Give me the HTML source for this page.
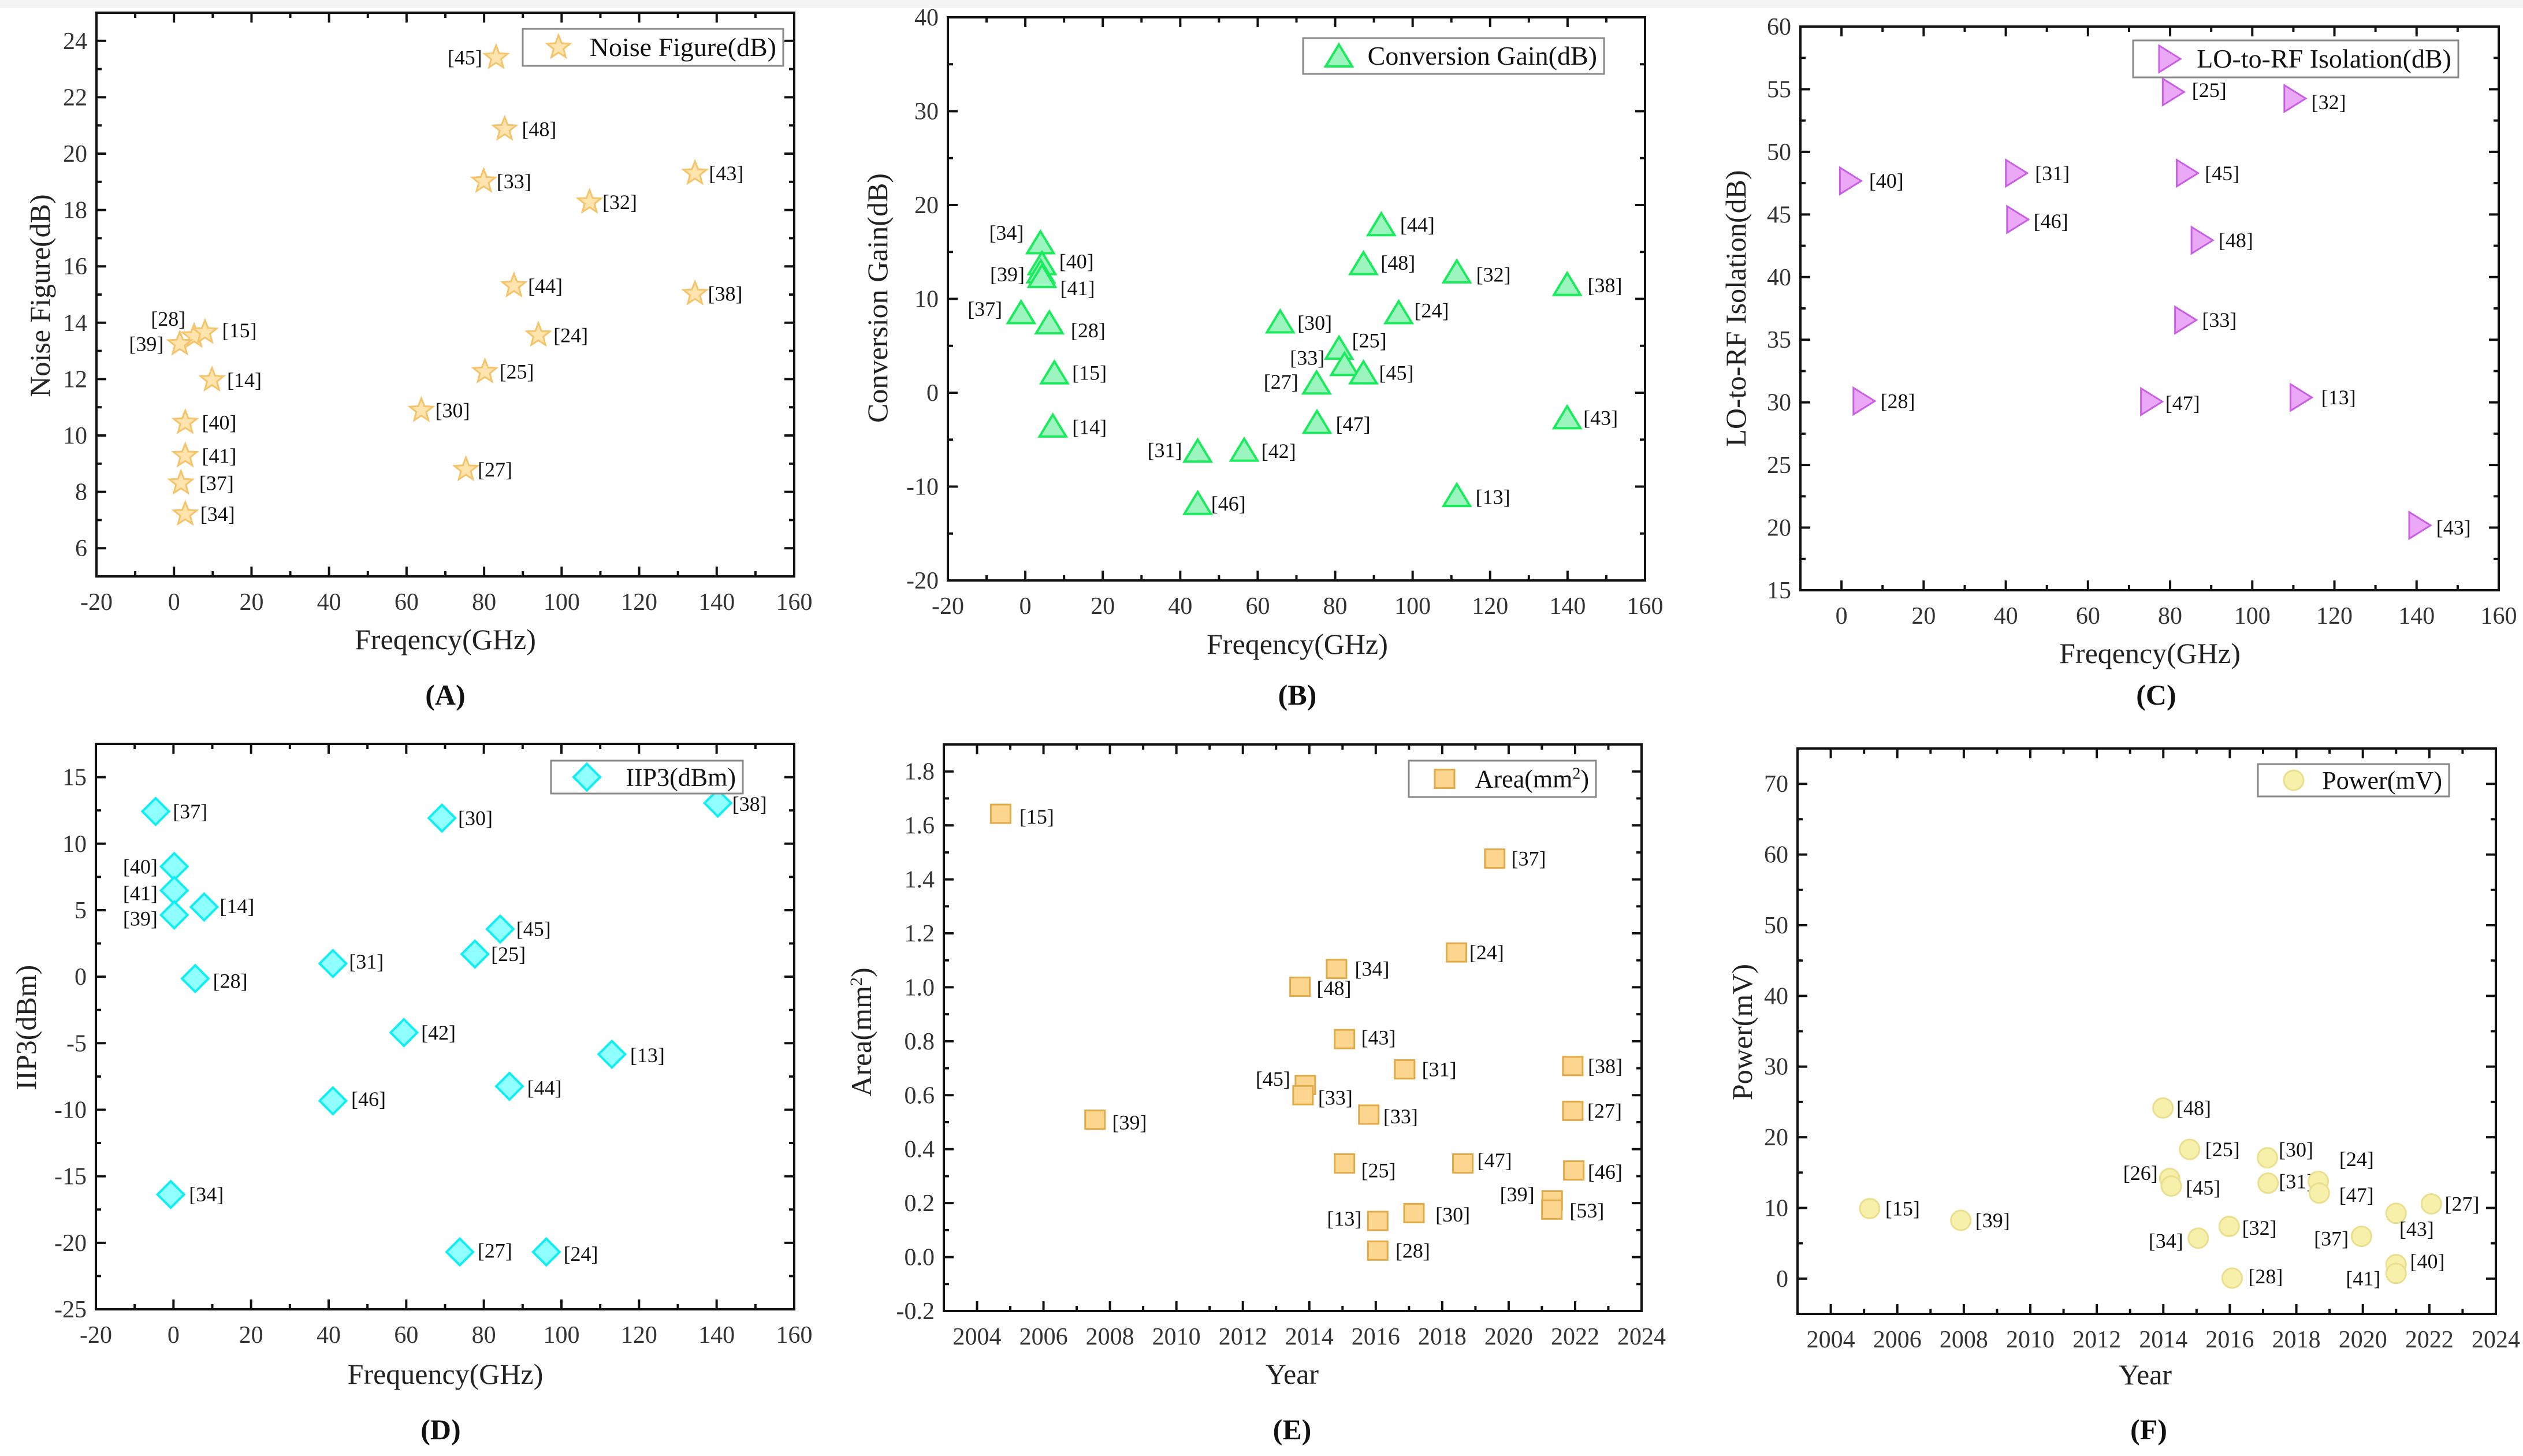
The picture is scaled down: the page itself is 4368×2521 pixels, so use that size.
<!DOCTYPE html>
<html><head><meta charset="utf-8"><style>
html,body{margin:0;padding:0;background:#fff;}
svg{display:block;font-family:"Liberation Serif","Noto Serif CJK SC",serif;}
</style></head><body>
<svg id="fig" width="4368" height="2521" viewBox="0 0 4368 2521">
<rect x="0" y="0" width="4368" height="14" fill="#f4f4f4"/>
</svg>
<script>
// ===== Panel A: Noise Figure =====
const aRefs=["[45]","[48]","[33]","[43]","[32]","[44]","[38]","[28]","[15]","[39]","[24]","[14]","[25]","[30]","[40]","[41]","[27]","[37]","[34]"];
const aFreq=[83.1,85.3,79.9,134.4,107.2,87.7,134.4,5.2,8.0,1.5,94.0,9.8,80.2,63.8,2.9,2.9,75.3,1.8,2.9];
const aNF=[23.41,20.87,19.02,19.30,18.28,15.31,15.03,13.52,13.66,13.25,13.56,11.97,12.26,10.89,10.46,9.28,8.79,8.31,7.21];
const aLbl=[["e",-26,0],["s",32,0],["s",24,0],["s",26,0],["s",24,0],["s",26,0],["s",24,0],["e",-16,-38],["s",32,-4],["e",-30,0],["s",28,0],["s",28,0],["s",27,0],["s",26,0],["s",31,0],["s",31,0],["s",22,0],["s",34,0],["s",28,0]];
const aXTicks=[-20,0,20,40,60,80,100,120,140,160];
const aYTicks=[6,8,10,12,14,16,18,20,22,24];

// ===== Panel B: Conversion Gain =====
const bRefs=["[34]","[40]","[39]","[41]","[37]","[28]","[15]","[14]","[31]","[42]","[46]","[44]","[48]","[32]","[38]","[24]","[30]","[25]","[33]","[45]","[27]","[47]","[43]","[13]"];
const bFreq=[3.9,4.3,4.0,4.3,-1.1,6.2,7.5,7.1,44.5,56.5,44.5,91.9,87.3,111.4,139.9,96.4,65.8,81.0,82.4,87.3,75.2,75.3,139.9,111.4];
const bGain=[15.97,13.75,12.87,12.37,8.52,7.44,2.11,-3.56,-6.23,-6.13,-11.8,17.9,13.75,12.87,11.53,8.52,7.54,4.73,3.0,2.11,1.03,-3.17,-2.67,-10.96];
const bLbl=[["e",-31,-22],["s",32,-5],["e",-30,5],["s",34,25],["e",-35,-8],["s",40,16],["s",33,0],["s",36,2],["e",-29,-2],["s",32,2],["s",25,0],["s",35,0],["s",32,-2],["s",36,6],["s",38,2],["s",29,-5],["s",32,2],["s",24,-17],["e",-37,-15],["s",29,0],["e",-34,-3],["s",35,3],["s",30,0],["s",35,3]];
const bXTicks=[-20,0,20,40,60,80,100,120,140,160];
const bYTicks=[-20,-10,0,10,20,30,40];

// ===== Panel C: LO-to-RF Isolation =====
const cRefs=["[40]","[28]","[31]","[46]","[25]","[32]","[45]","[48]","[33]","[47]","[13]","[43]"];
const cFreq=[2.0,5.3,42.4,42.7,80.6,110.2,84.0,87.6,83.6,75.3,111.7,140.6];
const cIso=[47.68,30.1,48.3,44.6,54.78,54.26,48.3,42.94,36.57,30.06,30.39,20.18];
const cLbl=[["s",36,0],["s",32,0],["s",36,0],["s",31,4],["s",36,-4],["s",32,8],["s",34,0],["s",32,0],["s",32,0],["s",27,3],["s",39,0],["s",32,5]];
const cXTicks=[0,20,40,60,80,100,120,140,160];
const cYTicks=[15,20,25,30,35,40,45,50,55,60];

// ===== Panel D: IIP3 =====
const dRefs=["[37]","[30]","[38]","[40]","[41]","[39]","[14]","[28]","[31]","[45]","[25]","[42]","[13]","[44]","[46]","[34]","[27]","[24]"];
const dFreq=[-4.6,69.2,140.3,0.2,0.2,0.2,7.9,5.6,41.1,84.2,77.7,59.4,113.0,86.6,41.1,-0.7,73.8,96.1];
const dIIP3=[12.42,11.92,13.05,8.28,6.48,4.64,5.24,-0.14,0.99,3.58,1.70,-4.2,-5.83,-8.24,-9.33,-16.37,-20.69,-20.69];
const dLbl=[["s",32,0],["s",30,0],["s",27,2],["e",-31,0],["e",-31,6],["e",-31,8],["s",29,-2],["s",33,5],["s",30,-4],["s",30,0],["s",30,0],["s",32,0],["s",34,2],["s",33,3],["s",34,-4],["s",34,0],["s",33,-3],["s",32,4]];
const dXTicks=[-20,0,20,40,60,80,100,120,140,160];
const dYTicks=[-25,-20,-15,-10,-5,0,5,10,15];

// ===== Panel E: Area =====
const eRefs=["[15]","[39]","[37]","[24]","[34]","[48]","[43]","[31]","[38]","[45]","[33]","[33]","[27]","[25]","[47]","[46]","[39]","[53]","[30]","[13]","[28]"];
const eYear=[2004.71,2007.55,2019.58,2018.43,2014.82,2013.72,2015.06,2016.87,2021.93,2013.88,2013.81,2015.79,2021.93,2015.06,2018.62,2021.96,2021.31,2021.30,2017.15,2016.06,2016.06];
const eArea=[1.643,0.509,1.477,1.129,1.068,1.002,0.808,0.696,0.708,0.638,0.600,0.528,0.542,0.347,0.347,0.321,0.210,0.176,0.163,0.134,0.024];
const eLbl=[["s",35,6],["s",32,6],["s",31,0],["s",24,0],["s",34,0],["s",31,3],["s",31,-3],["s",32,0],["s",28,0],["e",-28,-13],["s",28,5],["s",27,4],["s",27,0],["s",31,15],["s",27,-7],["s",26,3],["e",-33,-13],["s",33,2],["s",40,3],["e",-30,-5],["s",33,0]];
const eXTicks=[2004,2006,2008,2010,2012,2014,2016,2018,2020,2022,2024];
const eYTicks=[-0.2,0.0,0.2,0.4,0.6,0.8,1.0,1.2,1.4,1.6,1.8];

// ===== Panel F: Power =====
const fRefs=["[15]","[39]","[48]","[25]","[26]","[45]","[34]","[32]","[28]","[30]","[31]","[24]","[47]","[37]","[43]","[40]","[41]","[27]"];
const fYear=[2005.17,2007.91,2013.99,2014.79,2014.19,2014.24,2015.05,2015.98,2016.07,2017.13,2017.15,2018.66,2018.69,2019.96,2021.0,2021.0,2021.0,2022.06];
const fPower=[9.91,8.24,24.14,18.28,14.16,13.10,5.72,7.38,0.07,17.09,13.50,13.76,12.10,5.98,9.24,1.99,0.73,10.57];
const fLbl=[["s",29,0],["s",27,0],["s",25,0],["s",29,0],["e",-22,-12],["s",27,4],["e",-28,6],["s",24,3],["s",30,-4],["s",21,-18],["s",20,-4],["s",39,-48],["s",37,4],["e",-24,5],["s",6,34],["s",26,-7],["e",-29,11],["s",25,0]];
const fXTicks=[2004,2006,2008,2010,2012,2014,2016,2018,2020,2022,2024];
const fYTicks=[0,10,20,30,40,50,60,70];

const NS="http://www.w3.org/2000/svg";
const svg=document.getElementById('fig');
const KX=0.93, KY=0.8;
function mk(tag,attrs,parent){const e=document.createElementNS(NS,tag);for(const k in attrs)e.setAttribute(k,attrs[k]);(parent||svg).appendChild(e);return e;}

function marker(kind,cx,cy,g){
  let e;
  if(kind==='star'){
    const R=21,r=9;let p=[];
    for(let i=0;i<10;i++){const a=-Math.PI/2+i*Math.PI/5;const rr=i%2?r:R;p.push((cx+rr*Math.cos(a)).toFixed(1)+','+(cy+rr*Math.sin(a)).toFixed(1));}
    e=mk('polygon',{points:p.join(' '),fill:'#FFE4AE','stroke':'#F5C46A','stroke-width':3},g);
  }else if(kind==='tri'){
    e=mk('polygon',{points:`${cx},${cy-20} ${cx+23},${cy+18} ${cx-23},${cy+18}`,fill:'#9CF5BE',stroke:'#1AEB5C','stroke-width':4},g);
  }else if(kind==='rtri'){
    e=mk('polygon',{points:`${cx-17},${cy-23} ${cx+20},${cy} ${cx-17},${cy+23}`,fill:'#EBA8F7',stroke:'#C95FE6','stroke-width':3},g);
  }else if(kind==='dia'){
    e=mk('polygon',{points:`${cx},${cy-23} ${cx+23},${cy} ${cx},${cy+23} ${cx-23},${cy}`,fill:'#8FFFFF',stroke:'#10EEF2','stroke-width':4},g);
  }else if(kind==='sq'){
    e=mk('rect',{x:cx-17,y:cy-16,width:34,height:32,fill:'#FCD68E',stroke:'#E0AA48','stroke-width':3},g);
  }else{
    e=mk('circle',{cx:cx,cy:cy,r:17,fill:'#F7F0AA',stroke:'#EADF8E','stroke-width':3},g);
  }
  return e;
}

function panel(o){
  const g=mk('g',{});
  
  
  const L=o.L,R=o.R,T=o.T,B=o.B;
  const sx=v=>L+(v-o.x0)/(o.x1-o.x0)*(R-L);
  const sy=v=>B-(v-o.y0)/(o.y1-o.y0)*(B-T);
  // ticks
  const tg=mk('g',{stroke:'#111','stroke-width':4},g);
  
  
  const xs=o.xt, ys=o.yt;
  for(let i=0;i<xs.length;i++){
    const x=sx(xs[i]);
    mk('line',{x1:x,y1:B,x2:x,y2:B-17},tg);mk('line',{x1:x,y1:T,x2:x,y2:T+17},tg);
    if(i<xs.length-1){const xm=sx((xs[i]+xs[i+1])/2);mk('line',{x1:xm,y1:B,x2:xm,y2:B-9},tg);mk('line',{x1:xm,y1:T,x2:xm,y2:T+9},tg);}
    if(i===0&&xs[0]>o.x0){const xm=sx(xs[0]-(xs[1]-xs[0])/2);if(xm>=L){mk('line',{x1:xm,y1:B,x2:xm,y2:B-9},tg);mk('line',{x1:xm,y1:T,x2:xm,y2:T+9},tg);}}
    const t=mk('text',{x:x,y:B+58,'text-anchor':'middle','font-size':42,fill:'#333'},g);
    t.textContent=o.xfmt?o.xfmt(xs[i]):xs[i];
    
    
  }
  for(let i=0;i<ys.length;i++){
    const y=sy(ys[i]);
    mk('line',{x1:L,y1:y,x2:L+17,y2:y},tg);mk('line',{x1:R,y1:y,x2:R-17,y2:y},tg);
    const nextv=i<ys.length-1?(ys[i]+ys[i+1])/2:ys[i]+(ys[1]-ys[0])/2;
    const ym=sy(nextv);
    if(ym>=T-1){mk('line',{x1:L,y1:ym,x2:L+9,y2:ym},tg);mk('line',{x1:R,y1:ym,x2:R-9,y2:ym},tg);}
    if(i===0){const y2=sy(ys[0]-(ys[1]-ys[0])/2);if(y2<=B){mk('line',{x1:L,y1:y2,x2:L+9,y2:y2},tg);mk('line',{x1:R,y1:y2,x2:R-9,y2:y2},tg);}}
    const t=mk('text',{x:L-16,y:y+14,'text-anchor':'end','font-size':42,fill:'#333'},g);
    t.textContent=o.yfmt?o.yfmt(ys[i]):ys[i];
    
    
  }
  const fr=mk('rect',{x:L,y:T,width:R-L,height:B-T,fill:'none',stroke:'#111','stroke-width':4},g);
  
  
  // points
  for(let i=0;i<o.xv.length;i++){
    const cx=sx(o.xv[i]),cy=sy(o.yv[i]);
    const m=marker(o.kind,cx,cy,g);
    
    
    const lb=o.lbl[i];
    const t=mk('text',{x:cx+lb[1]*KX,y:cy+lb[2]*KY+12,'text-anchor':lb[0]==='e'?'end':'start','font-size':36,fill:'#111'},g);
    t.textContent=o.refs[i];
    
    
  }
  // legend
  const lg=mk('g',{},g);
  
  
  mk('rect',{x:o.lg[0],y:o.lg[1],width:o.lg[2]-o.lg[0],height:o.lg[3]-o.lg[1],fill:'#fff',stroke:'#888','stroke-width':3},lg);
  const lcy=(o.lg[1]+o.lg[3])/2;
  const lm=marker(o.kind,o.lg[0]+62,lcy,lg);
  
  
  const lt=mk('text',{x:o.lg[2]-12,y:lcy+15,'text-anchor':'end','font-size':o.lfs||44,fill:'#111'},lg);
  lt.innerHTML=o.ltext;
  
  
  // axis titles
  const xt=mk('text',{x:o.xtp[0],y:o.xtp[1],'text-anchor':'middle','font-size':50,fill:'#222'},g);
  xt.textContent=o.xtitle;
  
  
  const yt=mk('text',{x:0,y:0,'text-anchor':'middle','font-size':50,fill:'#222',transform:`translate(${o.ytp[0]},${o.ytp[1]}) rotate(-90)`},g);
  yt.innerHTML=o.ytitle;
  
  
  const pl=mk('text',{x:o.pl[0],y:o.pl[1],'text-anchor':'middle','font-size':50,'font-weight':'bold',fill:'#111'},g);
  pl.textContent=o.plabel;
  
  
}

const f1=v=>v.toFixed(1);
panel({name:'panel-a-noise-figure',L:167,R:1375,T:22,B:998,x0:-20,x1:160,y0:5,y1:25,xt:aXTicks,yt:aYTicks,xv:aFreq,yv:aNF,refs:aRefs,lbl:aLbl,kind:'star',
  lg:[905,50,1356,114],ltext:'Noise Figure(dB)',lfs:46,xtitle:'Freqency(GHz)',xtp:[771,1124],ytitle:'Noise Figure(dB)',ytp:[86,512],plabel:'(A)',pl:[771,1220]});
panel({name:'panel-b-conversion-gain',L:1641,R:2848,T:30,B:1005,x0:-20,x1:160,y0:-20,y1:40,xt:bXTicks,yt:bYTicks,xv:bFreq,yv:bGain,refs:bRefs,lbl:bLbl,kind:'tri',
  lg:[2256,66,2777,128],ltext:'Conversion Gain(dB)',lfs:46,xtitle:'Freqency(GHz)',xtp:[2246,1132],ytitle:'Conversion Gain(dB)',ytp:[1536,516],plabel:'(B)',pl:[2246,1220]});
panel({name:'panel-c-lo-rf-isolation',L:3117,R:4326,T:46,B:1022,x0:-10,x1:160,y0:15,y1:60,xt:cXTicks,yt:cYTicks,xv:cFreq,yv:cIso,refs:cRefs,lbl:cLbl,kind:'rtri',
  lg:[3693,70,4256,134],ltext:'LO-to-RF Isolation(dB)',lfs:46,xtitle:'Freqency(GHz)',xtp:[3722,1148],ytitle:'LO-to-RF Isolation(dB)',ytp:[3022,534],plabel:'(C)',pl:[3733,1220]});
panel({name:'panel-d-iip3',L:166,R:1375,T:1288,B:2267,x0:-20,x1:160,y0:-25,y1:17.5,xt:dXTicks,yt:dYTicks,xv:dFreq,yv:dIIP3,refs:dRefs,lbl:dLbl,kind:'dia',
  lg:[954,1317,1286,1374],ltext:'IIP3(dBm)',lfs:44,xtitle:'Frequency(GHz)',xtp:[771,2396],ytitle:'IIP3(dBm)',ytp:[62,1779],plabel:'(D)',pl:[763,2492]});
panel({name:'panel-e-area',L:1634,R:2842,T:1289,B:2270,x0:2003,x1:2024,y0:-0.2,y1:1.9,xt:eXTicks,yt:eYTicks,xv:eYear,yv:eArea,refs:eRefs,lbl:eLbl,kind:'sq',yfmt:f1,
  lg:[2439,1317,2763,1380],ltext:'Area(mm<tspan baseline-shift="super" font-size="28">2</tspan>)',lfs:44,xtitle:'Year',xtp:[2237,2396],ytitle:'Area(mm<tspan baseline-shift="super" font-size="30">2</tspan>)',ytp:[1508,1787],plabel:'(E)',pl:[2237,2492]});
panel({name:'panel-f-power',L:3112,R:4321,T:1296,B:2275,x0:2003,x1:2024,y0:-5,y1:75,xt:fXTicks,yt:fYTicks,xv:fYear,yv:fPower,refs:fRefs,lbl:fLbl,kind:'circ',
  lg:[3909,1323,4240,1379],ltext:'Power(mV)',lfs:44,xtitle:'Year',xtp:[3714,2397],ytitle:'Power(mV)',ytp:[3033,1787],plabel:'(F)',pl:[3720,2492]});
</script>
</body></html>
